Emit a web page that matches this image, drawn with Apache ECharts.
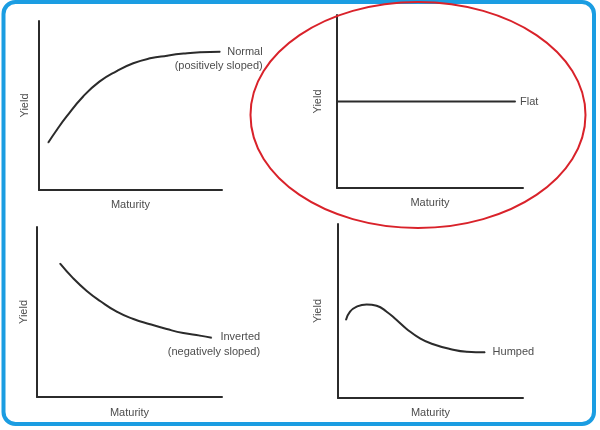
<!DOCTYPE html>
<html>
<head>
<meta charset="utf-8">
<script src="https://cdn.jsdelivr.net/npm/echarts@6/dist/echarts.min.js"></script>
<style>
  html, body { margin: 0; padding: 0; background: #fff; }
  #chart { width: 600px; height: 430px; }
</style>
</head>
<body>
<div id="chart"></div>
<script>
// shapes of the four yield curves (x = maturity, y = yield, both 0..100)
const normalMaturity = [5, 9.7, 15, 24, 33, 42.5, 51.5, 60.7, 70, 79, 88, 99];
const normalYield = [28, 35.5, 43.4, 55.2, 64.1, 70.4, 75, 77.9, 79.5, 80.7, 81.5, 81.8];

const flatMaturity = [0, 96];
const flatYield = [50, 50];

const invertedMaturity = [12.4, 19.6, 26.9, 34.1, 43.1, 52.1, 61.1, 70.1, 79.1, 88.1, 94.4];
const invertedYield = [78.6, 69.8, 62.4, 56.5, 50.2, 45.9, 42.8, 40, 37.6, 36.1, 34.9];

const humpedMaturity = [4.3, 6.5, 10.1, 15.5, 20.9, 26.3, 31.7, 37.1, 44.3, 51.5, 60.5, 69.6, 79.5];
const humpedYield = [44.8, 49.6, 52.5, 53.8, 53, 49.6, 44.8, 39.7, 34.3, 30.9, 28.2, 26.6, 26.3];

const curveLabels = ['Normal\n(positively sloped)', 'Flat', 'Inverted\n(negatively sloped)', 'Humped'];
const xName = 'Maturity';
const yName = 'Yield';

let myChart = echarts.init(document.getElementById('chart'));

const ink = '#2b2b2b';
const textColor = '#4d4d4d';
const fontFamily = 'Liberation Sans, Arial, sans-serif';

function pairs(xs, ys, lastLabel) {
    return xs.map((x, i) => {
        if (i === xs.length - 1) {
            return {value: [x, ys[i]], label: lastLabel};
        }
        return [x, ys[i]];
    });
}

function xAxisFor(idx, gap) {
    return {
        type: 'value', gridIndex: idx, min: 0, max: 100,
        name: xName, nameLocation: 'middle', nameGap: gap,
        nameTextStyle: {color: textColor, fontSize: 11, fontFamily: fontFamily},
        axisLine: {show: true, lineStyle: {color: ink, width: 2}},
        axisTick: {show: false}, axisLabel: {show: false}, splitLine: {show: false}
    };
}

function yAxisFor(idx, gap) {
    return {
        type: 'value', gridIndex: idx, min: 0, max: 100,
        name: yName, nameLocation: 'middle', nameGap: gap, nameRotate: 90,
        nameTextStyle: {color: textColor, fontSize: 11, fontFamily: fontFamily},
        axisLine: {show: true, lineStyle: {color: ink, width: 2}},
        axisTick: {show: false}, axisLabel: {show: false}, splitLine: {show: false}
    };
}

function curve(idx, data) {
    return {
        type: 'line', xAxisIndex: idx, yAxisIndex: idx,
        data: data, smooth: 0.5,
        symbol: 'circle', symbolSize: 1,
        itemStyle: {color: ink},
        lineStyle: {color: ink, width: 2},
        label: {show: false},
        animation: false
    };
}

const labelBase = {show: true, color: textColor, fontSize: 11, fontFamily: fontFamily};

let option = {
    backgroundColor: '#fff',
    grid: [
        {left: 39, top: 21, width: 183, height: 169},
        {left: 337, top: 15, width: 186, height: 173},
        {left: 37, top: 227, width: 185, height: 170},
        {left: 338, top: 224, width: 185, height: 174}
    ],
    xAxis: [xAxisFor(0, 9), xAxisFor(1, 9), xAxisFor(2, 10), xAxisFor(3, 9)],
    yAxis: [yAxisFor(0, 9), yAxisFor(1, 14), yAxisFor(2, 8), yAxisFor(3, 15)],
    series: [
        curve(0, pairs(normalMaturity, normalYield, Object.assign({}, labelBase, {
            position: [43, -6], align: 'right', verticalAlign: 'top', lineHeight: 14,
            formatter: curveLabels[0]
        }))),
        curve(1, pairs(flatMaturity, flatYield, Object.assign({}, labelBase, {
            position: 'right', distance: 4, formatter: curveLabels[1]
        }))),
        curve(2, pairs(invertedMaturity, invertedYield, Object.assign({}, labelBase, {
            position: [49, -8], align: 'right', verticalAlign: 'top', lineHeight: 15,
            formatter: curveLabels[2]
        }))),
        curve(3, pairs(humpedMaturity, humpedYield, Object.assign({}, labelBase, {
            position: 'right', distance: 7, formatter: curveLabels[3]
        })))
    ],
    graphic: [
        {
            type: 'rect', z: 10,
            shape: {x: 3.5, y: 2, width: 590.5, height: 422, r: 12},
            style: {fill: 'none', stroke: '#1b9de2', lineWidth: 4}
        },
        {
            type: 'ellipse', z: 11,
            shape: {cx: 418, cy: 115, rx: 167.5, ry: 113},
            style: {fill: 'none', stroke: '#d9222a', lineWidth: 2}
        }
    ]
};

myChart.setOption(option);
</script>
</body>
</html>
